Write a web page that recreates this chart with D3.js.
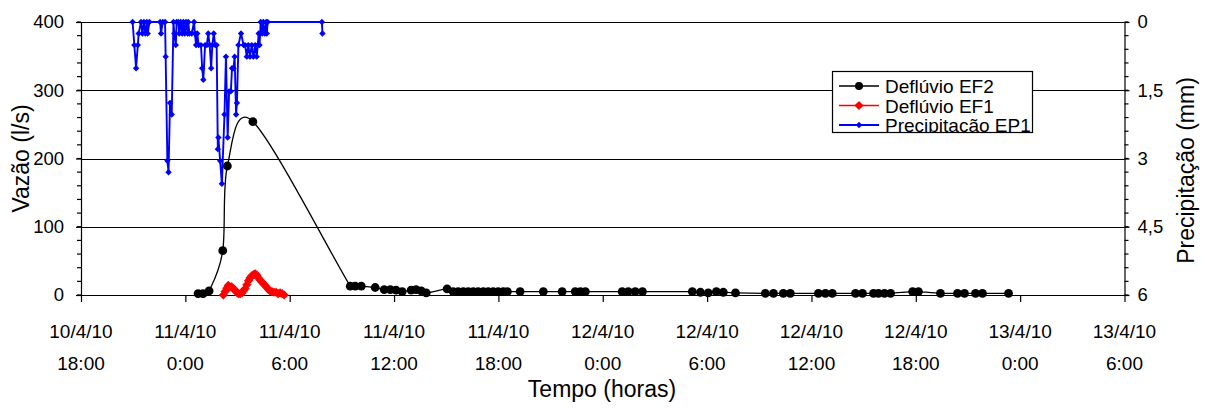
<!DOCTYPE html>
<html>
<head>
<meta charset="utf-8">
<script src="https://cdn.jsdelivr.net/npm/d3@7"></script>
<style>
  html, body { margin: 0; padding: 0; background: #fff; }
  svg { display: block; font-family: "Liberation Sans", Arial, sans-serif; }
</style>
</head>
<body>
<svg id="chart" width="1207" height="408"></svg>
<script>
// ---- Deflúvio EF2 (l/s) ----
const ef2Times = [
  "11/04/10 00:44","11/04/10 01:01","11/04/10 01:22","11/04/10 02:09","11/04/10 02:25","11/04/10 03:53",
  "11/04/10 09:29","11/04/10 09:46","11/04/10 10:07","11/04/10 10:55","11/04/10 11:26","11/04/10 11:47",
  "11/04/10 12:07","11/04/10 12:28","11/04/10 12:59","11/04/10 13:16","11/04/10 13:34","11/04/10 13:51",
  "11/04/10 15:03","11/04/10 15:24","11/04/10 15:41","11/04/10 15:59","11/04/10 16:16","11/04/10 16:33",
  "11/04/10 16:50","11/04/10 17:08","11/04/10 17:25","11/04/10 17:42","11/04/10 17:59","11/04/10 18:17",
  "11/04/10 18:31","11/04/10 19:15","11/04/10 20:35","11/04/10 21:40","11/04/10 22:25","11/04/10 22:43",
  "11/04/10 23:00","12/04/10 01:07","12/04/10 01:28","12/04/10 01:52","12/04/10 02:17","12/04/10 05:09",
  "12/04/10 05:37","12/04/10 06:04","12/04/10 06:32","12/04/10 06:56","12/04/10 07:38","12/04/10 09:21",
  "12/04/10 09:49","12/04/10 10:23","12/04/10 10:47","12/04/10 12:24","12/04/10 12:48","12/04/10 13:12",
  "12/04/10 14:32","12/04/10 14:56","12/04/10 15:34","12/04/10 15:51","12/04/10 16:12","12/04/10 16:33",
  "12/04/10 17:49","12/04/10 18:09","12/04/10 19:25","12/04/10 20:24","12/04/10 20:48","12/04/10 21:26",
  "12/04/10 21:50","12/04/10 23:20"
];
const ef2Values = [
  2, 2, 6, 65, 189, 254,
  13, 13, 13, 11, 8, 8,
  7, 5, 7, 8, 6, 3,
  9, 5, 5, 5, 5, 5,
  5, 5, 5, 5, 5, 5,
  5, 5, 5, 5, 5, 5,
  5, 5, 5, 5, 5, 5,
  4, 3, 5, 4, 3, 2.5,
  2.5, 2.5, 2.5, 2.5, 2.5, 2.5,
  2.5, 2.5, 2.5, 2.5, 2.5, 2.5,
  5, 5, 2.5, 2.5, 2.5, 2.5,
  2.5, 2.5
];

// ---- Deflúvio EF1 (l/s) ----
const ef1Times = [
  "11/04/10 02:11","11/04/10 02:17","11/04/10 02:23","11/04/10 02:28","11/04/10 02:34","11/04/10 02:40",
  "11/04/10 02:46","11/04/10 02:52","11/04/10 02:57","11/04/10 03:03","11/04/10 03:09","11/04/10 03:15",
  "11/04/10 03:20","11/04/10 03:26","11/04/10 03:32","11/04/10 03:38","11/04/10 03:43","11/04/10 03:49",
  "11/04/10 03:55","11/04/10 04:01","11/04/10 04:07","11/04/10 04:12","11/04/10 04:18","11/04/10 04:24",
  "11/04/10 04:29","11/04/10 04:35","11/04/10 04:41","11/04/10 04:47","11/04/10 04:52","11/04/10 04:59",
  "11/04/10 05:06","11/04/10 05:13","11/04/10 05:20","11/04/10 05:27","11/04/10 05:34","11/04/10 05:41"
];
const ef1Values = [
  0, 5, 10, 14, 12, 12,
  9, 7, 4, 2, 2, 3,
  6, 9, 15, 21, 25, 28,
  30, 31, 29, 25, 22, 19,
  17, 14, 11, 8, 6, 5,
  4, 4, 2, 3, 2, 0
];

// ---- Precipitação EP1 (mm) ----
const ep1Times = [
  "10/04/10 20:58","10/04/10 21:04","10/04/10 21:10","10/04/10 21:16","10/04/10 21:19","10/04/10 21:27",
  "10/04/10 21:32","10/04/10 21:37","10/04/10 21:42","10/04/10 21:47","10/04/10 21:50","10/04/10 21:56",
  "10/04/10 22:33","10/04/10 22:36","10/04/10 22:42","10/04/10 22:50","10/04/10 22:52","10/04/10 22:58",
  "10/04/10 23:02","10/04/10 23:07","10/04/10 23:13","10/04/10 23:19","10/04/10 23:22","10/04/10 23:27",
  "10/04/10 23:30","10/04/10 23:36","10/04/10 23:39","10/04/10 23:44","10/04/10 23:49","10/04/10 23:53",
  "10/04/10 23:58","11/04/10 00:02","11/04/10 00:08","11/04/10 00:10","11/04/10 00:14","11/04/10 00:22",
  "11/04/10 00:30","11/04/10 00:33","11/04/10 00:37","11/04/10 00:41","11/04/10 00:46","11/04/10 00:54",
  "11/04/10 00:58","11/04/10 01:02","11/04/10 01:08","11/04/10 01:14","11/04/10 01:19","11/04/10 01:24",
  "11/04/10 01:29","11/04/10 01:33","11/04/10 01:38","11/04/10 01:43","11/04/10 01:48","11/04/10 01:52",
  "11/04/10 01:54","11/04/10 02:00","11/04/10 02:06","11/04/10 02:15","11/04/10 02:20","11/04/10 02:26",
  "11/04/10 02:31","11/04/10 02:37","11/04/10 02:41","11/04/10 02:46","11/04/10 02:50","11/04/10 02:55",
  "11/04/10 02:58","11/04/10 03:03","11/04/10 03:12","11/04/10 03:21","11/04/10 03:26","11/04/10 03:32",
  "11/04/10 03:37","11/04/10 03:43","11/04/10 03:49","11/04/10 03:55","11/04/10 04:01","11/04/10 04:06",
  "11/04/10 04:10","11/04/10 04:13","11/04/10 04:16","11/04/10 04:20","11/04/10 04:25","11/04/10 04:29",
  "11/04/10 04:34","11/04/10 04:39","11/04/10 04:41","11/04/10 04:44","11/04/10 07:51","11/04/10 07:53"
];
const ep1Values = [
  0, 0.508, 1.016, 0.508, 0.254, 0,
  0.254, 0, 0.254, 0, 0.254, 0,
  0, 0.254, 0, 0, 0.762, 3.048,
  3.302, 1.778, 2.032, 0, 0.254, 0.508,
  0, 0, 0.254, 0, 0.254, 0,
  0.254, 0, 0.254, 0, 0.254, 0.254,
  0, 0.254, 0.508, 0.254, 0.508, 0.508,
  1.016, 1.27, 0.508, 0.508, 0.254, 0.508,
  1.016, 0.508, 0.254, 0.508, 0.508, 2.794,
  2.54, 3.048, 3.556, 2.032, 0.762, 2.54,
  1.524, 1.524, 1.016, 1.016, 0.762, 2.032,
  1.778, 0.508, 0.254, 0.508, 0.508, 0.762,
  0.508, 0.762, 0.508, 0.762, 0.508, 0.762,
  0.508, 0.254, 0.508, 0, 0.254, 0,
  0.254, 0, 0.254, 0, 0, 0.254
];

// ---- axes ----
const xTickTimes = [
  "10/04/10 18:00","11/04/10 00:00","11/04/10 06:00","11/04/10 12:00","11/04/10 18:00","12/04/10 00:00",
  "12/04/10 06:00","12/04/10 12:00","12/04/10 18:00","13/04/10 00:00","13/04/10 06:00"
];
const yTicks = [0, 100, 200, 300, 400];
const y2Ticks = [0, 1.5, 3, 4.5, 6];
const y2TickLabels = ["0", "1,5", "3", "4,5", "6"];
const seriesNames = ["Deflúvio EF2", "Deflúvio EF1", "Precipitação EP1"];

const parse = d3.timeParse("%d/%m/%y %H:%M");
const fmtDate = d3.timeFormat("%-d/%-m/%y");
const fmtHour = d3.timeFormat("%-H:%M");

const ef2 = ef2Times.map((t, i) => ({ t: parse(t), v: ef2Values[i] }));
const ef1 = ef1Times.map((t, i) => ({ t: parse(t), v: ef1Values[i] }));
const ep1 = ep1Times.map((t, i) => ({ t: parse(t), v: ep1Values[i] }));
const xTickDates = xTickTimes.map(parse);

const L = 81, R = 1124.5, T = 22, B = 295;
const x = d3.scaleTime().domain([xTickDates[0], xTickDates[xTickDates.length - 1]]).range([L, R]);
const y = d3.scaleLinear().domain([0, 400]).range([B, T]);
const y2 = d3.scaleLinear().domain([0, 6]).range([T, B]);

// Spreadsheet-style smoothed line: cubic Bézier segments whose control arms are
// (next - previous) / 6, shortened to half the segment where neighbours are far apart.
function curveSpreadsheet(context) {
  let pts = [];
  const dist = (a, b) => Math.hypot(b[0] - a[0], b[1] - a[1]);
  return {
    areaStart() {}, areaEnd() {},
    lineStart() { pts = []; },
    point(px, py) { pts.push([+px, +py]); },
    lineEnd() {
      const n = pts.length;
      if (!n) return;
      context.moveTo(pts[0][0], pts[0][1]);
      for (let i = 0; i < n - 1; i++) {
        const p0 = pts[Math.max(i - 1, 0)], p1 = pts[i], p2 = pts[i + 1], p3 = pts[Math.min(i + 2, n - 1)];
        const d12 = dist(p1, p2), d02 = dist(p0, p2), d13 = dist(p1, p3);
        let f0 = 1 / 6, f3 = 1 / 6;
        if (d02 > 0 && d02 / 6 > d12 / 2) f0 = d12 / 2 / d02;
        if (d13 > 0 && d13 / 6 > d12 / 2) f3 = d12 / 2 / d13;
        context.bezierCurveTo(
          p1[0] + (p2[0] - p0[0]) * f0, p1[1] + (p2[1] - p0[1]) * f0,
          p2[0] - (p3[0] - p1[0]) * f3, p2[1] - (p3[1] - p1[1]) * f3,
          p2[0], p2[1]);
      }
    }
  };
}

const svg = d3.select("#chart");
const FONT = 18.5;

// horizontal grid
svg.append("g").selectAll("line").data(yTicks.filter(d => d > 0)).join("line")
  .attr("x1", L).attr("x2", R)
  .attr("y1", d => Math.round(y(d)) + 0.5).attr("y2", d => Math.round(y(d)) + 0.5)
  .attr("stroke", "#000").attr("stroke-width", 1);

function styleAxis(g) {
  g.selectAll("path.domain").attr("stroke", "#000").attr("stroke-width", 1.2);
  g.selectAll(".tick line").attr("stroke", "#000").attr("stroke-width", 1.2);
  g.selectAll("text").attr("font-family", "\"Liberation Sans\", Arial, sans-serif")
    .attr("font-size", FONT).attr("fill", "#000");
}

// left axis (Vazão)
const gLeft = svg.append("g").attr("transform", `translate(${L},0)`)
  .call(d3.axisLeft(y).tickValues(yTicks).tickSize(5).tickSizeOuter(0).tickPadding(12));
styleAxis(gLeft);
gLeft.selectAll(".minor").data(d3.range(0, 401, 20)).join("line")
  .attr("class", "minor").attr("x1", -4).attr("x2", 0)
  .attr("y1", d => y(d)).attr("y2", d => y(d)).attr("stroke", "#000").attr("stroke-width", 1.2);

// right axis (Precipitação, reversed)
const gRight = svg.append("g").attr("transform", `translate(${R},0)`)
  .call(d3.axisRight(y2).tickValues(y2Ticks).tickFormat((d, i) => y2TickLabels[i])
    .tickSize(5).tickSizeOuter(0).tickPadding(8));
styleAxis(gRight);
gRight.selectAll(".minor").data(d3.range(0, 6.01, 0.3)).join("line")
  .attr("class", "minor").attr("x1", 0).attr("x2", 4)
  .attr("y1", d => y2(d)).attr("y2", d => y2(d)).attr("stroke", "#000").attr("stroke-width", 1.2);

// bottom axis (Tempo)
const gBottom = svg.append("g").attr("transform", `translate(0,${B})`)
  .call(d3.axisBottom(x).tickValues(xTickDates).tickSize(7).tickSizeOuter(0).tickFormat(""));
styleAxis(gBottom);
const xLab = svg.append("g").attr("font-size", 19).attr("text-anchor", "middle");
xLab.selectAll("text.d").data(xTickDates).join("text").attr("class", "d")
  .attr("x", d => x(d)).attr("y", 338).text(d => fmtDate(d));
xLab.selectAll("text.h").data(xTickDates).join("text").attr("class", "h")
  .attr("x", d => x(d)).attr("y", 369.5).text(d => fmtHour(d));

// axis titles
svg.append("text").attr("x", 602).attr("y", 397).attr("text-anchor", "middle")
  .attr("font-size", 23).text("Tempo (horas)");
svg.append("text").attr("transform", `translate(29,${(T + B) / 2}) rotate(-90)`)
  .attr("text-anchor", "middle").attr("font-size", 23).text("Vazão (l/s)");
svg.append("text").attr("transform", `translate(1194,${(T + B) / 2 + 12}) rotate(-90)`)
  .attr("text-anchor", "middle").attr("font-size", 23).text("Precipitação (mm)");

const diamond = r => `M0,${-r}L${r},0L0,${r}L${-r},0Z`;

// Precipitação EP1 (secondary axis)
const lineP = d3.line().x(d => x(d.t)).y(d => y2(d.v));
svg.append("path").datum(ep1).attr("d", lineP)
  .attr("fill", "none").attr("stroke", "#0000ff").attr("stroke-width", 1.9).attr("stroke-linejoin", "round");
svg.append("g").selectAll("path").data(ep1).join("path")
  .attr("transform", d => `translate(${x(d.t)},${y2(d.v)})`)
  .attr("d", diamond(3.2)).attr("fill", "#0000ff");

// Deflúvio EF2 (smoothed)
const lineS = d3.line().x(d => x(d.t)).y(d => y(d.v)).curve(curveSpreadsheet);
svg.append("path").datum(ef2).attr("d", lineS)
  .attr("fill", "none").attr("stroke", "#000").attr("stroke-width", 1.3);
svg.append("g").selectAll("circle").data(ef2).join("circle")
  .attr("cx", d => x(d.t)).attr("cy", d => y(d.v)).attr("r", 4.4).attr("fill", "#000");

// Deflúvio EF1
const lineQ = d3.line().x(d => x(d.t)).y(d => y(d.v));
svg.append("path").datum(ef1).attr("d", lineQ)
  .attr("fill", "none").attr("stroke", "#ff0000").attr("stroke-width", 1.2);
svg.append("g").selectAll("path").data(ef1).join("path")
  .attr("transform", d => `translate(${x(d.t)},${y(d.v)})`)
  .attr("d", diamond(4.6)).attr("fill", "#ff0000");

// legend
const lg = svg.append("g");
const lgX = 832.5, lgY = 71.5, lgW = 200, lgH = 61;
svg.append("defs").append("clipPath").attr("id", "lgclip")
  .append("rect").attr("x", lgX).attr("y", lgY).attr("width", lgW).attr("height", lgH);
lg.append("rect").attr("x", lgX).attr("y", lgY).attr("width", lgW).attr("height", lgH)
  .attr("fill", "#fff").attr("stroke", "none");
const rowsY = [86, 105.5, 125];
const colors = ["#000", "#ff0000", "#0000ff"];
const inner = lg.append("g").attr("clip-path", "url(#lgclip)");
seriesNames.forEach((name, i) => {
  inner.append("line").attr("x1", 839).attr("x2", 879).attr("y1", rowsY[i]).attr("y2", rowsY[i])
    .attr("stroke", colors[i]).attr("stroke-width", i === 2 ? 1.8 : 1.3);
  if (i === 0) inner.append("circle").attr("cx", 859).attr("cy", rowsY[i]).attr("r", 4).attr("fill", "#000");
  else inner.append("path").attr("transform", `translate(859,${rowsY[i]})`)
    .attr("d", diamond(i === 1 ? 4.6 : 3.2)).attr("fill", colors[i]);
  inner.append("text").attr("x", 885).attr("y", rowsY[i] + 7).attr("font-size", 19).text(name);
});
lg.append("rect").attr("x", lgX).attr("y", lgY).attr("width", lgW).attr("height", lgH)
  .attr("fill", "none").attr("stroke", "#000").attr("stroke-width", 1.2);
</script>
</body>
</html>
